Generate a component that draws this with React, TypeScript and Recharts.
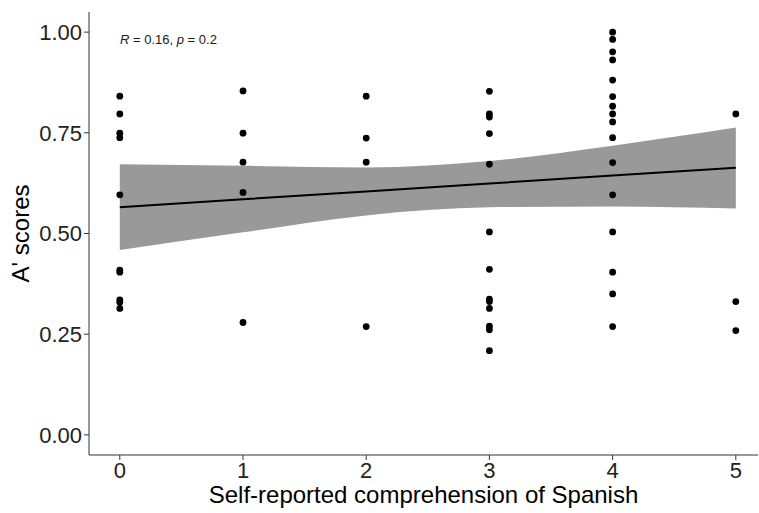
import {
  ComposedChart,
  Area,
  Line,
  Scatter,
  XAxis,
  YAxis,
} from "recharts";

// A' scores by self-reported comprehension level
const level0 = [0.841, 0.797, 0.749, 0.738, 0.596, 0.409, 0.404, 0.335, 0.329, 0.314];
const level1 = [0.854, 0.749, 0.677, 0.602, 0.279];
const level2 = [0.841, 0.737, 0.677, 0.269];
const level3 = [0.853, 0.797, 0.789, 0.748, 0.672, 0.504, 0.411, 0.337, 0.331, 0.314, 0.27, 0.261, 0.209];
const level4 = [1.0, 0.982, 0.951, 0.931, 0.881, 0.84, 0.816, 0.797, 0.777, 0.738, 0.676, 0.596, 0.504, 0.404, 0.35, 0.269];
const level5 = [0.797, 0.331, 0.259];

// fitted line and confidence band, read at each level
const fitX = [0, 1, 2, 3, 4, 5];
const fitY = [0.565, 0.585, 0.604, 0.624, 0.644, 0.663];
const bandLow = [0.459, 0.503, 0.545, 0.565, 0.567, 0.562];
const bandHigh = [0.672, 0.668, 0.664, 0.68, 0.718, 0.763];

const xTicks = [0, 1, 2, 3, 4, 5];
const yTicks = [0, 0.25, 0.5, 0.75, 1];

const levels = [level0, level1, level2, level3, level4, level5];
const points = levels.flatMap((vals, i) => vals.map((y) => ({ x: i, y })));

const fitData = fitX.map((x, i) => ({
  x,
  fit: fitY[i],
  band: [bandLow[i], bandHigh[i]],
}));

const font = "Liberation Sans, Arial, sans-serif";
const tickStyle = { fontSize: 22, fill: "#222", fontFamily: font };

export default function App() {
  return (
    <div style={{ position: "absolute", left: 0, top: 0, width: 759, height: 513, background: "#fff" }}>
      <ComposedChart
        width={759}
        height={513}
        data={fitData}
        margin={{ top: 12, right: 1, bottom: 0, left: 0 }}
      >
        <XAxis
          dataKey="x"
          type="number"
          domain={[-0.25, 5.18]}
          ticks={xTicks}
          allowDataOverflow
          height={58}
          tick={tickStyle}
          tickSize={5}
          stroke="#333"
          tickLine={{ stroke: "#333" }}
          label={{
            value: "Self-reported comprehension of Spanish",
            position: "insideBottom",
            offset: 10,
            style: { fontSize: 24, fill: "#000", fontFamily: font },
          }}
        />
        <YAxis
          type="number"
          domain={[-0.05, 1.05]}
          ticks={yTicks}
          allowDataOverflow
          width={89}
          tick={tickStyle}
          tickSize={5}
          tickFormatter={(v: number) => v.toFixed(2)}
          stroke="#333"
          tickLine={{ stroke: "#333" }}
          label={{
            value: "A' scores",
            angle: -90,
            position: "insideLeft",
            offset: 20,
            style: { fontSize: 24, fill: "#000", fontFamily: font, textAnchor: "middle" },
          }}
        />
        <Area
          dataKey="band"
          type="monotone"
          stroke="none"
          fill="#999999"
          fillOpacity={1}
          isAnimationActive={false}
        />
        <Line
          dataKey="fit"
          type="linear"
          stroke="#000"
          strokeWidth={2}
          dot={false}
          isAnimationActive={false}
        />
        <Scatter
          data={points}
          dataKey="y"
          fill="#000"
          shape={(p: any) => <circle cx={p.cx} cy={p.cy} r={3.4} fill="#000" />}
          isAnimationActive={false}
        />
      </ComposedChart>
      <div
        style={{
          position: "absolute",
          left: 120,
          top: 32,
          fontSize: 13,
          fontFamily: font,
          color: "#1a1a1a",
          whiteSpace: "nowrap",
        }}
      >
        <i>R</i> = 0.16, <i>p</i> = 0.2
      </div>
    </div>
  );
}
